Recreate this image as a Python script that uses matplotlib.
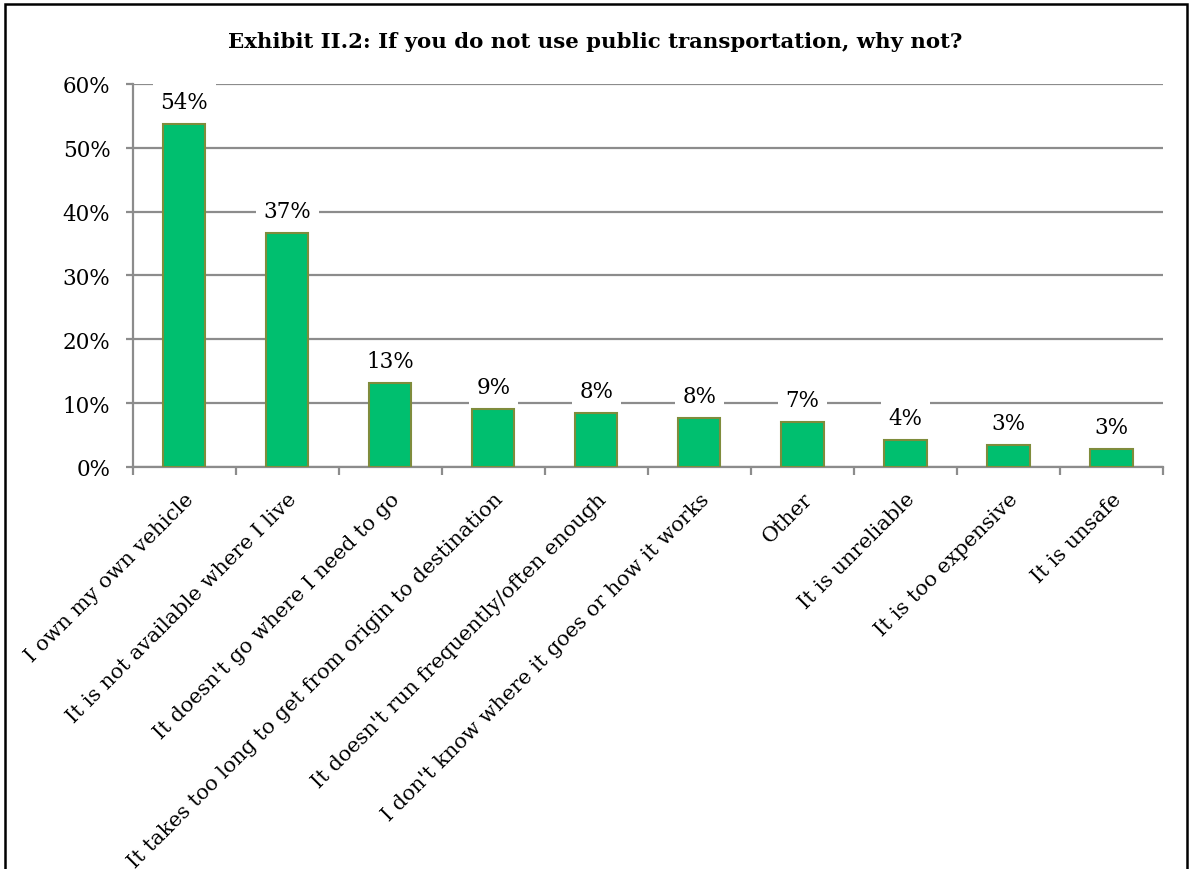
import matplotlib.pyplot as plt
from matplotlib.patches import Rectangle
from matplotlib.ticker import FixedLocator, PercentFormatter

plt.rcParams["font.family"] = ["DejaVu Serif"]

reasons = [
    "I own my own vehicle",
    "It is not available where I live",
    "It doesn't go where I need to go",
    "It takes too long to get from origin to destination",
    "It doesn't run frequently/often enough",
    "I don't know where it goes or how it works",
    "Other",
    "It is unreliable",
    "It is too expensive",
    "It is unsafe",
]
shares = [53.8, 36.6, 13.1, 9.1, 8.4, 7.7, 7.0, 4.2, 3.4, 2.8]

GREEN = "#00bf6f"
OLIVE = "#7f8c3c"
GRID = "#8c8c8c"

fig = plt.figure(figsize=(11.9, 8.7), dpi=100)
ax = fig.add_axes([0.1115, 0.4621, 0.8658, 0.4402])

x = list(range(len(reasons)))
bars = ax.bar(x, shares, width=0.41, color=GREEN, edgecolor=OLIVE, linewidth=1.5, zorder=3)

ax.set_xlim(-0.5, len(reasons) - 0.5)
ax.set_ylim(0, 60)
ax.yaxis.set_major_locator(FixedLocator([0, 10, 20, 30, 40, 50, 60]))
ax.yaxis.set_major_formatter(PercentFormatter(decimals=0))
ax.grid(axis="y", color=GRID, lw=1.6, zorder=0)
ax.set_axisbelow(True)

for side in ("top", "right"):
    ax.spines[side].set_visible(False)
for side in ("left", "bottom"):
    ax.spines[side].set_color(GRID)
    ax.spines[side].set_linewidth(1.6)

# ticks sit on category boundaries, labels on bar centres
ax.set_xticks([i - 0.5 for i in range(len(reasons) + 1)])
ax.set_xticklabels([])
ax.set_xticks(x, minor=True)
ax.set_xticklabels(reasons, minor=True, rotation=45, ha="right", va="top",
                   rotation_mode="anchor", fontsize=15)
ax.tick_params(axis="x", which="major", length=6, width=1.6, color=GRID)
ax.tick_params(axis="x", which="minor", length=0, pad=16)
ax.tick_params(axis="y", length=5, width=1.6, color=GRID, labelsize=15.5, pad=11)

for b, v in zip(bars, shares):
    ax.annotate(f"{v:.0f}%", (b.get_x() + b.get_width() / 2, v),
                xytext=(0, 22), textcoords="offset pixels",
                ha="center", va="center", fontsize=15.5, zorder=4,
                bbox=dict(boxstyle="square,pad=0.35", fc="white", ec="none"))

fig.text(0.5, 0.952, "Exhibit II.2: If you do not use public transportation, why not?",
         ha="center", va="center", fontsize=15.3, fontweight="bold")

fig.patches.append(Rectangle((5 / 1190, -0.05), 1182 / 1190, 1.05 - 5 / 870,
                             transform=fig.transFigure, fill=False, ec="black", lw=1.8))

fig.savefig("out.png", dpi=100)
